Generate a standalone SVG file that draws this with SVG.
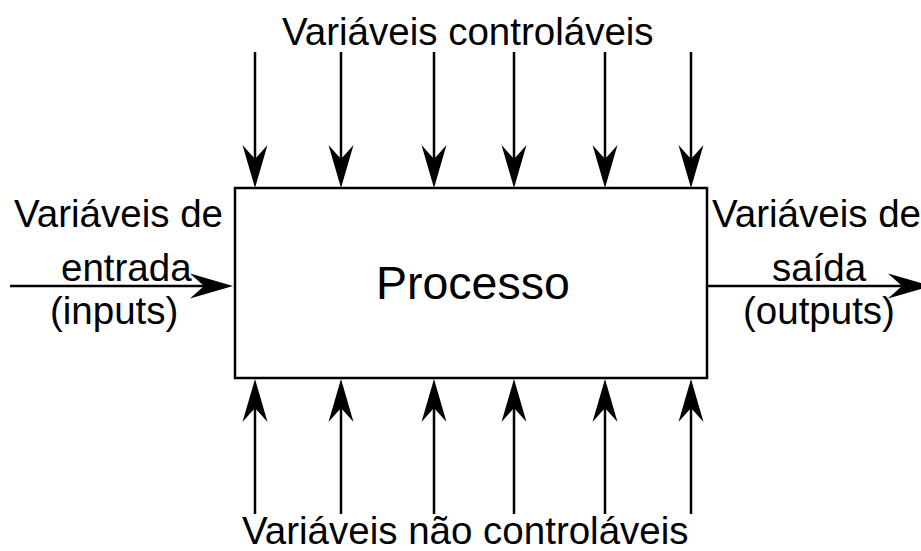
<svg xmlns="http://www.w3.org/2000/svg" xmlns:xlink="http://www.w3.org/1999/xlink" width="921" height="551" viewBox="0 0 921 551">
  <style>
    .t { font-family: "Liberation Sans", Arial, sans-serif; font-size: 38.5px; fill: #000; }
    .big { font-size: 46.5px; }
    .ln { stroke: #000; stroke-width: 2.5; fill: none; }
    .box { stroke: #000; stroke-width: 2.5; fill: #fff; }
    .hd { fill: #000; stroke: none; }
  </style>
  <defs>
    <!-- arrowhead pointing down, tip at origin -->
    <path id="ah" d="M0,0 L-12.5,-43 L0,-29 L12.5,-43 Z"/>
  </defs>
  <rect width="921" height="551" fill="#fff"/>

  <g id="connectors">
    <g id="top-arrows">
      <line class="ln" x1="255" y1="52" x2="255" y2="175"/>
      <line class="ln" x1="341" y1="52" x2="341" y2="175"/>
      <line class="ln" x1="434" y1="52" x2="434" y2="175"/>
      <line class="ln" x1="514" y1="52" x2="514" y2="175"/>
      <line class="ln" x1="605" y1="52" x2="605" y2="175"/>
      <line class="ln" x1="691" y1="52" x2="691" y2="175"/>
      <use class="hd" xlink:href="#ah" href="#ah" transform="translate(255,188)"/>
      <use class="hd" xlink:href="#ah" href="#ah" transform="translate(341,188)"/>
      <use class="hd" xlink:href="#ah" href="#ah" transform="translate(434,188)"/>
      <use class="hd" xlink:href="#ah" href="#ah" transform="translate(514,188)"/>
      <use class="hd" xlink:href="#ah" href="#ah" transform="translate(605,188)"/>
      <use class="hd" xlink:href="#ah" href="#ah" transform="translate(691,188)"/>
    </g>
    <g id="bottom-arrows">
      <line class="ln" x1="255" y1="392" x2="255" y2="514"/>
      <line class="ln" x1="341" y1="392" x2="341" y2="514"/>
      <line class="ln" x1="434" y1="392" x2="434" y2="514"/>
      <line class="ln" x1="514" y1="392" x2="514" y2="514"/>
      <line class="ln" x1="605" y1="392" x2="605" y2="514"/>
      <line class="ln" x1="691" y1="392" x2="691" y2="514"/>
      <use class="hd" xlink:href="#ah" href="#ah" transform="translate(255,379) rotate(180)"/>
      <use class="hd" xlink:href="#ah" href="#ah" transform="translate(341,379) rotate(180)"/>
      <use class="hd" xlink:href="#ah" href="#ah" transform="translate(434,379) rotate(180)"/>
      <use class="hd" xlink:href="#ah" href="#ah" transform="translate(514,379) rotate(180)"/>
      <use class="hd" xlink:href="#ah" href="#ah" transform="translate(605,379) rotate(180)"/>
      <use class="hd" xlink:href="#ah" href="#ah" transform="translate(691,379) rotate(180)"/>
    </g>
    <g id="input-arrow">
      <line class="ln" x1="10" y1="286" x2="220" y2="286"/>
      <use class="hd" xlink:href="#ah" href="#ah" transform="translate(233,286) rotate(-90)"/>
    </g>
    <g id="output-arrow">
      <line class="ln" x1="708" y1="286" x2="918" y2="286"/>
      <use class="hd" xlink:href="#ah" href="#ah" transform="translate(931,286) rotate(-90)"/>
    </g>
  </g>

  <g id="processo">
    <rect class="box" x="235" y="188" width="472" height="190"/>
    <text class="t big" x="376" y="299">Processo</text>
  </g>

  <g id="label-controlaveis">
    <text class="t" x="282" y="45">Variáveis controláveis</text>
  </g>

  <g id="label-nao-controlaveis">
    <text class="t" x="242" y="544">Variáveis não controláveis</text>
  </g>

  <g id="label-entrada">
    <text class="t" x="14" y="227">Variáveis de</text>
    <text class="t" x="61" y="281">entrada</text>
    <text class="t" x="50" y="324">(inputs)</text>
  </g>

  <g id="label-saida">
    <text class="t" x="712" y="227">Variáveis de</text>
    <text class="t" x="772" y="281">saída</text>
    <text class="t" x="743" y="324">(outputs)</text>
  </g>
</svg>
